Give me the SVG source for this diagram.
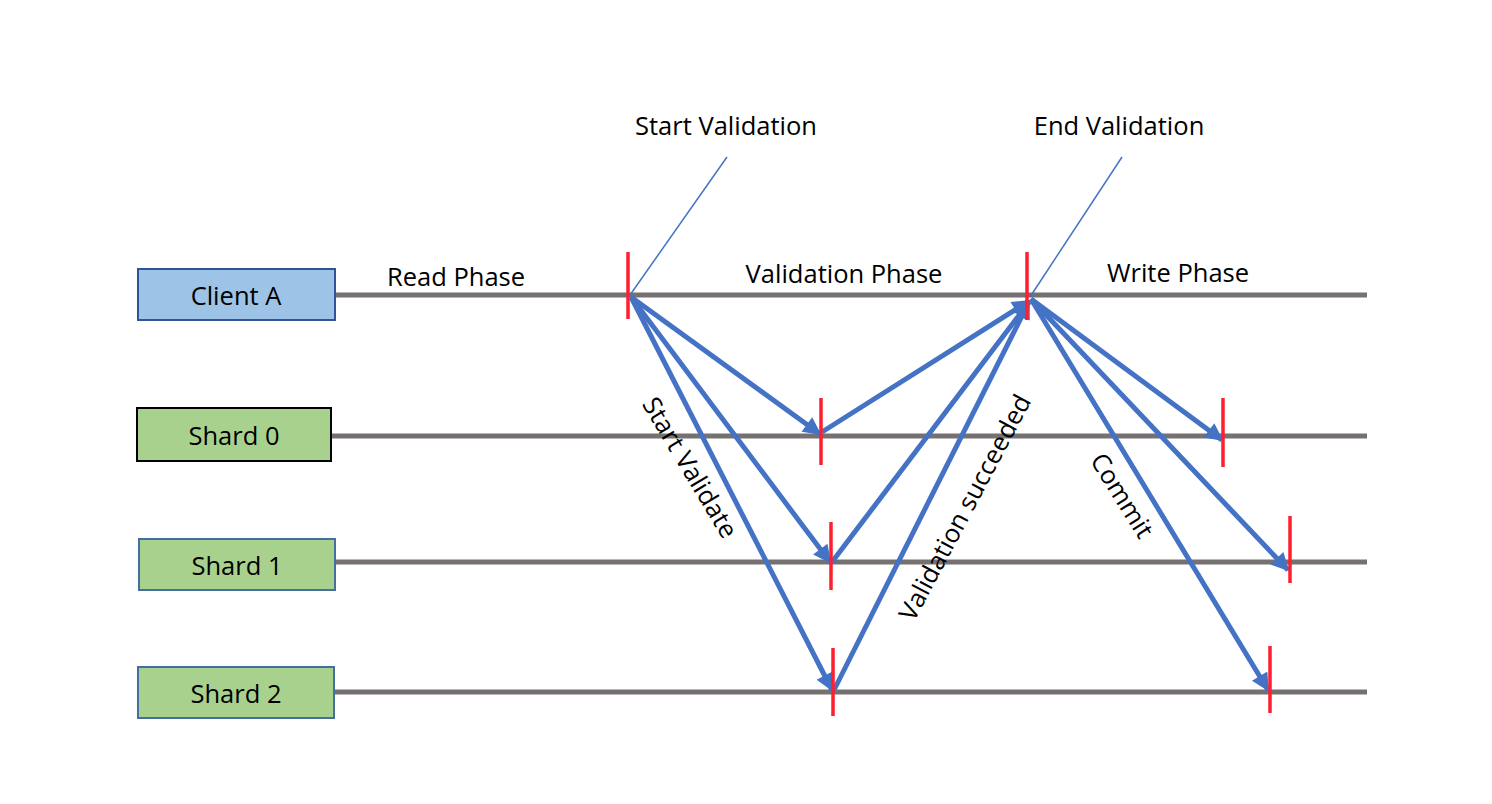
<svg xmlns="http://www.w3.org/2000/svg" width="1492" height="804" viewBox="0 0 1492 804">
<style>
text{font-family:"Open Sans","Liberation Sans",sans-serif;font-size:25.5px;fill:#000;text-anchor:middle;dominant-baseline:central}
.tl{stroke:#767171;stroke-width:5}
.tick{stroke:#FF1F2E;stroke-width:3.5}
.msg{stroke:#4472C4;stroke-width:5;fill:none;marker-end:url(#ah)}
.thin{stroke:#4472C4;stroke-width:1.5}
.box{stroke-width:2}
</style>
<defs>
<marker id="ah" viewBox="0 0 10 10" refX="9" refY="5" markerWidth="4" markerHeight="3.6" orient="auto" markerUnits="strokeWidth">
<path d="M0,0 L10,5 L0,10 z" fill="#4472C4"/>
</marker>
</defs>
<rect width="1492" height="804" fill="#fff"/>
<g id="timelines">
<line class="tl" x1="335" y1="295" x2="1367" y2="295"/>
<line class="tl" x1="331" y1="436" x2="1367" y2="436"/>
<line class="tl" x1="335" y1="562" x2="1367" y2="562"/>
<line class="tl" x1="334" y1="692" x2="1367" y2="692"/>
</g>
<g id="client-a"><rect class="box" x="138" y="269" width="197" height="51" fill="#9DC3E6" stroke="#2F5597"/><text x="236" y="295">Client A</text></g>
<g id="shard-0"><rect class="box" x="137" y="408" width="194" height="53" fill="#A9D18E" stroke="#000"/><text x="234" y="435">Shard 0</text></g>
<g id="shard-1"><rect class="box" x="139" y="539" width="196" height="51" fill="#A9D18E" stroke="#41719C"/><text x="237" y="565">Shard 1</text></g>
<g id="shard-2"><rect class="box" x="138" y="667" width="196" height="51" fill="#A9D18E" stroke="#41719C"/><text x="236" y="693">Shard 2</text></g>
<g id="connectors">
<line class="thin" x1="630" y1="295" x2="727" y2="157"/>
<line class="thin" x1="1030" y1="297" x2="1122" y2="157"/>
<line class="msg" x1="631" y1="297" x2="820" y2="434"/>
<line class="msg" x1="631" y1="297" x2="830" y2="562"/>
<line class="msg" x1="631" y1="297" x2="832" y2="690"/>
<line class="msg" x1="822" y1="432" x2="1029" y2="301"/>
<line class="msg" x1="832" y1="562" x2="1029" y2="302"/>
<line class="msg" x1="834" y1="690" x2="1029" y2="302"/>
<line class="msg" x1="1031" y1="299" x2="1222" y2="440"/>
<line class="msg" x1="1031" y1="299" x2="1288" y2="570"/>
<line class="msg" x1="1031" y1="299" x2="1268" y2="690"/>
</g>
<g id="ticks">
<line class="tick" x1="628" y1="252" x2="628" y2="319"/>
<line class="tick" x1="821" y1="398" x2="821" y2="465"/>
<line class="tick" x1="831" y1="522" x2="831" y2="590"/>
<line class="tick" x1="833" y1="648" x2="833" y2="716"/>
<line class="tick" x1="1027" y1="252" x2="1027" y2="320"/>
<line class="tick" x1="1223" y1="398" x2="1223" y2="467"/>
<line class="tick" x1="1290" y1="516" x2="1290" y2="583"/>
<line class="tick" x1="1270" y1="646" x2="1270" y2="713"/>
</g>
<g id="labels">
<text x="726" y="125">Start Validation</text>
<text x="1119" y="125">End Validation</text>
<text x="456" y="276">Read Phase</text>
<text x="844" y="273">Validation Phase</text>
<text x="1178" y="272">Write Phase</text>
<text transform="translate(691,467) rotate(59)">Start Validate</text>
<text transform="translate(964,507) rotate(-62)">Validation succeeded</text>
<text transform="translate(1123,495) rotate(58)">Commit</text>
</g>
</svg>
